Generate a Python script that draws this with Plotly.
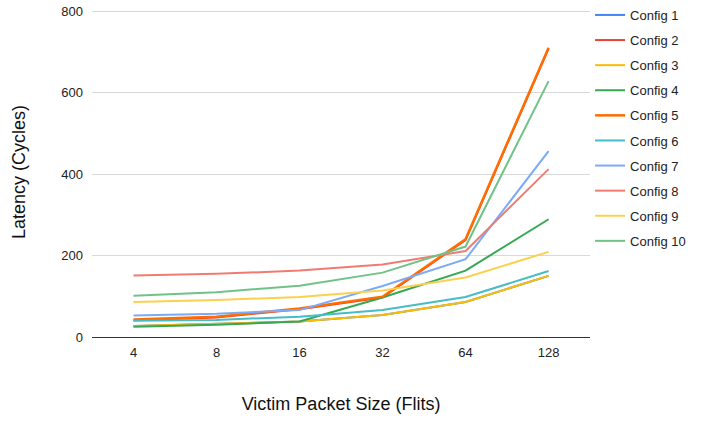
import plotly.graph_objects as go

categories = ["4", "8", "16", "32", "64", "128"]
series_names = ["Config 1", "Config 2", "Config 3", "Config 4", "Config 5",
                "Config 6", "Config 7", "Config 8", "Config 9", "Config 10"]
config1 = [27, 32, 38, 54, 86, 150]
config2 = [41, 48, 68, 97, 238, 708]
config3 = [27, 32, 38, 54, 86, 150]
config4 = [25, 30, 38, 97, 163, 289]
config5 = [43, 50, 70, 99, 240, 710]
config6 = [40, 42, 50, 66, 98, 162]
config7 = [53, 57, 66, 125, 191, 456]
config8 = [151, 155, 163, 178, 211, 412]
config9 = [86, 91, 98, 114, 146, 209]
config10 = [101, 110, 126, 158, 222, 628]
values = [config1, config2, config3, config4, config5,
          config6, config7, config8, config9, config10]
colors = ["#4285F4", "#EA4335", "#FBBC04", "#34A853", "#FF6D01",
          "#46BDC6", "#7BAAF7", "#F07B72", "#FCD04F", "#71C287"]
widths = [2, 2, 2, 2, 2.5, 2, 2, 2, 2, 2]

fig = go.Figure()
for i, (name, vals) in enumerate(zip(series_names, values)):
    fig.add_trace(go.Scatter(x=categories, y=vals, mode="lines", name=name,
                             legendgroup=name,
                             line=dict(color=colors[i], width=widths[i])))

fig.update_layout(
    width=705, height=422,
    margin=dict(l=92, r=112, t=7, b=85),
    paper_bgcolor="white", plot_bgcolor="white",
    font=dict(family="Liberation Sans, Arial, sans-serif", size=13, color="#222"),
    showlegend=True,
    legend=dict(xref="container", yref="container", x=0.837, y=1.022,
                xanchor="left", yanchor="top", maxheight=400,
                font=dict(size=13, color="#222"), tracegroupgap=5.2,
                itemwidth=30, bgcolor="rgba(0,0,0,0)"),
    xaxis=dict(type="category", range=[-0.5, 5.5], showgrid=False, showline=True,
               linecolor="#333", linewidth=1, ticks="", automargin=False,
               tickfont=dict(size=13, color="#222"), ticklabelstandoff=3,
               title=dict(text="Victim Packet Size (Flits)",
                          font=dict(size=18, color="#111"), standoff=38)),
    yaxis=dict(range=[0, 810], tickvals=[0, 200, 400, 600, 800],
               showgrid=True, gridcolor="#d9d9d9",
               gridwidth=1, zeroline=False, ticks="", automargin=False,
               tickfont=dict(size=13, color="#222"), ticklabelstandoff=8,
               title=dict(text="Latency (Cycles)",
                          font=dict(size=18, color="#111"), standoff=30)),
)

fig.write_html("out.html", config={"displayModeBar": False},
               post_script="document.body.style.margin='0';")
